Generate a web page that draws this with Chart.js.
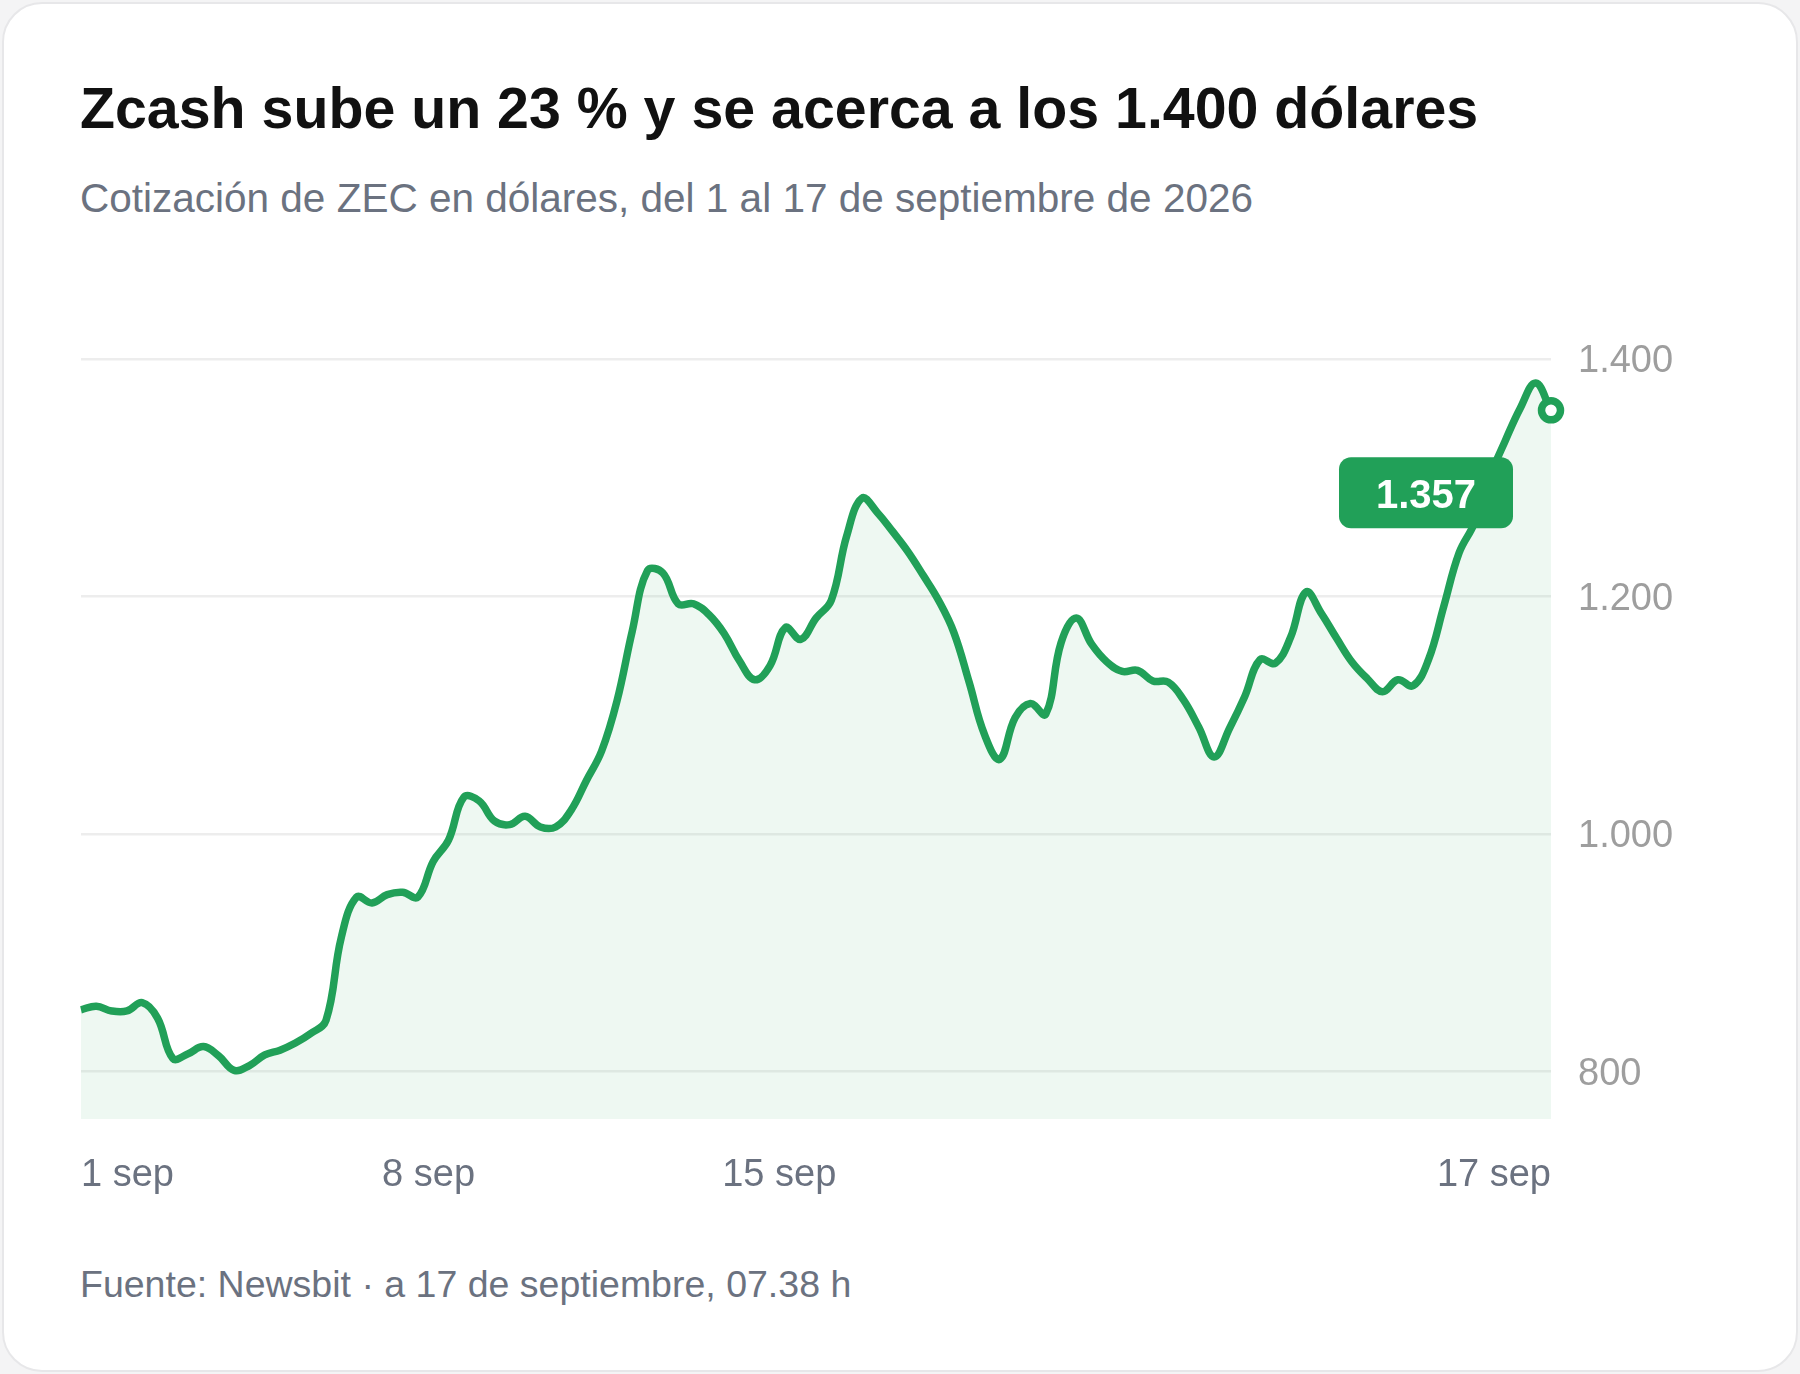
<!DOCTYPE html>
<html lang="es">
<head>
<meta charset="utf-8">
<title>Zcash</title>
<script src="https://cdn.jsdelivr.net/npm/chart.js@4.4.1/dist/chart.umd.min.js"></script>
<style>
  html, body { margin: 0; padding: 0; }
  body {
    width: 1800px;
    height: 1374px;
    background: #f4f4f5;
    font-family: "Liberation Sans", Arial, sans-serif;
    position: relative;
    overflow: hidden;
  }
  .card {
    position: absolute;
    left: 2px;
    top: 2px;
    width: 1792px;
    height: 1366px;
    background: #fff;
    border: 2px solid #e7e7e9;
    border-radius: 40px;
  }
  .txt {
    position: absolute;
    left: 80px;
    margin: 0;
    line-height: 1;
    white-space: nowrap;
  }
  .title { top: 80px; font-size: 57.3px; font-weight: 700; color: #111; }
  .subtitle { top: 178px; font-size: 40.5px; color: #6b7280; }
  .footer { top: 1266px; font-size: 37.5px; color: #6b7280; }
  /* canvas starts 30px left of the plot: chart.js reserves tick padding there */
  .chart-box {
    position: absolute;
    left: 51px;
    top: 300px;
    width: 1667px;
    height: 930px;
  }
</style>
</head>
<body>
<div class="card"></div>
<h1 class="txt title">Zcash sube un 23 % y se acerca a los 1.400 dólares</h1>
<p class="txt subtitle">Cotización de ZEC en dólares, del 1 al 17 de septiembre de 2026</p>
<div class="chart-box"><canvas id="chart"></canvas></div>
<p class="txt footer">Fuente: Newsbit · a 17 de septiembre, 07.38 h</p>

<script>
// ZEC price, evenly spaced readings from 1 sep to 17 sep
const prices = [
    852, 855, 851, 851, 858, 845, 811, 815, 821, 813,
    801, 805, 814, 818, 824, 832, 843, 913, 947, 942,
    949, 951, 947, 977, 995, 1031, 1028, 1011, 1008, 1015,
    1006, 1006, 1020, 1045, 1070, 1112, 1171, 1222, 1220, 1194,
    1194, 1185, 1169, 1146, 1130, 1142, 1174, 1164, 1182, 1197,
    1251, 1283, 1271, 1255, 1238, 1218, 1197, 1170, 1128, 1084,
    1063, 1098, 1110, 1101, 1161, 1182, 1160, 1145, 1137, 1138,
    1129, 1128, 1113, 1090, 1065, 1089, 1116, 1147, 1144, 1166,
    1204, 1186, 1165, 1145, 1131, 1120, 1130, 1125, 1147, 1192,
    1237, 1262, 1301, 1331, 1359, 1380, 1357
];

const xTickPos = [0, 22.7, 45.6, 96];
const xTickLabels = ['1 sep', '8 sep', '15 sep', '17 sep'];

const yTicks = [800, 1000, 1200, 1400];
const yTickLabels = ['800', '1.000', '1.200', '1.400'];

const green = '#21a058';
const last = prices.length - 1;

function fmt(v) {
    return String(Math.round(v)).replace(/\B(?=(\d{3})+(?!\d))/g, '.');
}

// green badge with the latest price, left-below the last point
const lastBadge = {
    id: 'lastBadge',
    afterDatasetsDraw(chart) {
        const pt = chart.getDatasetMeta(0).data[last];
        if (!pt) return;
        const ctx = chart.ctx;
        const w = 174, h = 71;
        const bx = pt.x - 38 - w;
        const by = pt.y + 47;
        ctx.save();
        ctx.fillStyle = green;
        ctx.beginPath();
        ctx.roundRect(bx, by, w, h, 12);
        ctx.fill();
        ctx.fillStyle = '#fff';
        ctx.font = 'bold 40px "Liberation Sans", Arial, sans-serif';
        ctx.textAlign = 'center';
        ctx.textBaseline = 'middle';
        ctx.fillText(fmt(prices[last]), bx + w / 2, by + h / 2 + 4);
        ctx.restore();
    }
};

new Chart(document.getElementById('chart'), {
    type: 'line',
    data: {
        datasets: [{
            data: prices.map((v, i) => ({ x: i, y: v })),
            borderColor: green,
            borderWidth: 7.5,
            backgroundColor: 'rgba(33, 160, 88, 0.08)',
            fill: 'start',
            tension: 0.4,
            clip: false,
            pointRadius: ctx => ctx.dataIndex === last ? 9.5 : 0,
            pointBackgroundColor: '#fff',
            pointBorderColor: green,
            pointBorderWidth: 7.5,
            pointHoverRadius: 0
        }]
    },
    options: {
        responsive: true,
        maintainAspectRatio: false,
        animation: false,
        events: [],
        layout: { padding: { top: 59.3, left: 0, right: 0, bottom: 0 } },
        plugins: {
            legend: { display: false },
            tooltip: { enabled: false }
        },
        scales: {
            x: {
                type: 'linear',
                min: 0,
                max: last,
                afterBuildTicks: scale => {
                    scale.ticks = xTickPos.map(v => ({ value: v }));
                },
                afterFit: scale => { scale.height = 111; },
                ticks: {
                    autoSkip: false,
                    maxRotation: 0,
                    align: 'inner',
                    padding: 30,
                    labelOffset: 0,
                    color: '#6b7280',
                    font: { family: '"Liberation Sans", Arial, sans-serif', size: 38, lineHeight: 1.4 },
                    callback: value => xTickLabels[xTickPos.indexOf(value)]
                },
                grid: { display: false, drawTicks: false },
                border: { display: false }
            },
            y: {
                position: 'right',
                min: 760,
                max: 1400,
                afterBuildTicks: scale => {
                    scale.ticks = yTicks.map(v => ({ value: v }));
                },
                afterFit: scale => { scale.width = 167; },
                ticks: {
                    padding: 27,
                    labelOffset: 2.5,
                    color: '#9e9e9e',
                    font: { family: '"Liberation Sans", Arial, sans-serif', size: 38 },
                    callback: value => yTickLabels[yTicks.indexOf(value)]
                },
                grid: { color: 'rgba(0, 0, 0, 0.07)', lineWidth: 2.5, drawTicks: false },
                border: { display: false }
            }
        }
    },
    plugins: [lastBadge]
});
</script>
</body>
</html>
